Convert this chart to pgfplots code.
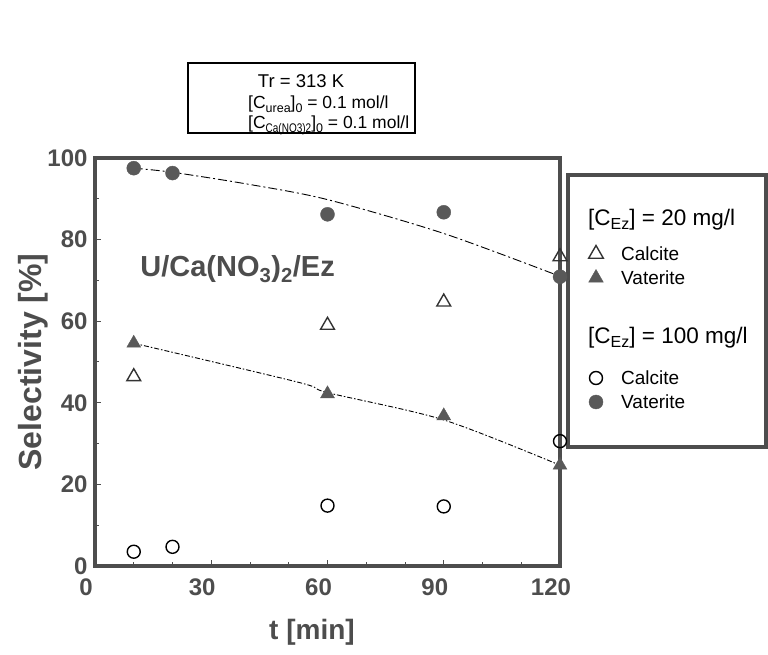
\documentclass[border=0pt]{standalone}
\usepackage{pgfplots}
\pgfplotsset{compat=1.18}
\usepackage{fontspec}
\setmainfont{Liberation Sans}
\definecolor{fr}{HTML}{4D4D4D}
\definecolor{mk}{HTML}{595959}
\newcommand\sub[1]{\raisebox{-0.35ex}{\fontsize{12.5}{12.5}\selectfont #1}}
\newcommand\lsub[1]{\raisebox{-0.3ex}{\fontsize{16}{16}\selectfont #1}}
\begin{document}
\begin{tikzpicture}[x=1pt,y=1pt]
\path[use as bounding box] (0,0) rectangle (768,654);
\draw[black, line width=1.3pt] (188,521) rectangle (415,591);
\node[font=\fontsize{18.5}{18.5}\selectfont, anchor=base, inner sep=0] at (301,566) {Tr = 313 K};
\node[font=\fontsize{17.5}{17.5}\selectfont, anchor=base west, inner sep=0] at (248,545) {[C\sub{urea}]\sub{0} = 0.1 mol/l};
\node[font=\fontsize{17.5}{17.5}\selectfont, anchor=base west, inner sep=0] at (248,525) {[C\sub{\scalebox{0.8}[1]{Ca(NO3)2}}]\sub{0} = 0.1 mol/l};
\draw[fr, line width=3.5pt] (568,207) rectangle (766,479);
\begin{axis}[at={(95pt,88pt)}, anchor=south west, scale only axis,
  width=465pt, height=408pt,
  xmin=0, xmax=120, ymin=0, ymax=100,
  xtick={0,30,60,90,120}, ytick={0,20,40,60,80,100},
  minor xtick={10,20,40,50,70,80,100,110}, minor ytick={10,30,50,70,90},
  axis line style={draw=fr, line width=3.5pt},
  tick style={draw=fr, line width=1pt},
  major tick length=6pt, minor tick length=4pt,
  tick align=inside, tick pos=left,
  ticklabel style={font=\fontsize{24}{24}\selectfont\bfseries, text=fr},
  /pgf/number format/assume math mode=true,
  xticklabel style={xshift=-9pt, yshift=-9pt},
  yticklabel style={xshift=-4pt},
  clip=false,
]
\addplot[black, line width=0.9pt, dash pattern=on 9pt off 3pt on 2pt off 3pt, smooth]
  coordinates {(10,97.5)(20,96.5)(40,93.5)(60,89.8)(90,81.5)(120,71)};
\addplot[black, line width=0.9pt, dash pattern=on 5pt off 2pt on 1.5pt off 2pt, smooth]
  coordinates {(10,54.6)(52.6,45)(60,42.5)(90,35.8)(120,24.7)};
\addplot[only marks, mark=triangle, mark size=8pt, mark options={draw=black!80, line width=1.4pt, fill=white}]
  coordinates {(10,46.4)(60,59)(90,64.7)(120,75.8)};
\addplot[only marks, mark=triangle*, mark size=8pt, mark options={draw=mk, fill=mk}]
  coordinates {(10,54.6)(60,42.2)(90,36.8)(120,24.7)};
\addplot[only marks, mark=o, mark size=6.5pt, mark options={draw=black, line width=1.4pt, fill=white}]
  coordinates {(10,3.5)(20,4.7)(60,14.8)(90,14.6)(120,30.6)};
\addplot[only marks, mark=*, mark size=7pt, mark options={draw=mk, fill=mk}]
  coordinates {(10,97.5)(20,96.3)(60,86.2)(90,86.7)(120,70.9)};
\node[font=\fontsize{29}{29}\selectfont\bfseries, text=fr] at (axis cs:36.8,72.8) {U/Ca(NO\textsubscript{3})\textsubscript{2}/Ez};
\end{axis}
% legend, drawn in its own hidden axis with pixel-like coordinates
\begin{axis}[at={(568pt,207pt)}, anchor=south west, scale only axis,
  width=198pt, height=272pt, xmin=568, xmax=766, ymin=207, ymax=479,
  hide axis, clip=false]
\addplot[only marks, mark=triangle, mark size=8.5pt, mark options={draw=black!80, line width=1.4pt, fill=white}]
  coordinates {(596,400)};
\addplot[only marks, mark=triangle*, mark size=8.5pt, mark options={draw=mk, fill=mk}]
  coordinates {(596,376)};
\addplot[only marks, mark=o, mark size=6.5pt, mark options={draw=black, line width=1.4pt, fill=white}]
  coordinates {(596,276)};
\addplot[only marks, mark=*, mark size=7pt, mark options={draw=mk, fill=mk}]
  coordinates {(596,252)};
\node[font=\fontsize{22.5}{22.5}\selectfont, anchor=west, inner sep=0] at (axis cs:588,434) {[C\lsub{Ez}] = 20 mg/l};
\node[font=\fontsize{19}{19}\selectfont, anchor=west, inner sep=0] at (axis cs:621,400) {Calcite};
\node[font=\fontsize{19}{19}\selectfont, anchor=west, inner sep=0] at (axis cs:621,376) {Vaterite};
\node[font=\fontsize{22.5}{22.5}\selectfont, anchor=west, inner sep=0] at (axis cs:588,316) {[C\lsub{Ez}] = 100 mg/l};
\node[font=\fontsize{19}{19}\selectfont, anchor=west, inner sep=0] at (axis cs:621,276) {Calcite};
\node[font=\fontsize{19}{19}\selectfont, anchor=west, inner sep=0] at (axis cs:621,252) {Vaterite};
\end{axis}
\node[rotate=90, font=\fontsize{32}{32}\selectfont\bfseries, text=fr] at (33,292) {Selectivity [\%]};
\node[font=\fontsize{28}{28}\selectfont\bfseries, text=fr] at (312,22) {t [min]};
\end{tikzpicture}
\end{document}
